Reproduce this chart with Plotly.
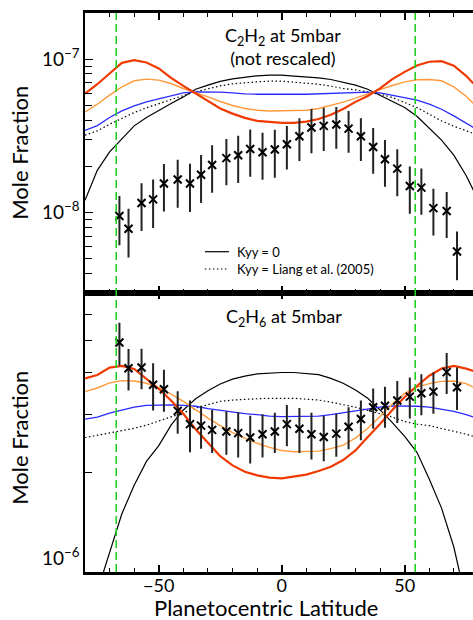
import plotly.graph_objects as go
from plotly.subplots import make_subplots

# ---------------- data ----------------
lat_grid = [-80, -75, -70, -65, -60, -55, -50, -45, -40, -35, -30, -25, -20, -15, -10, -5,
            0, 5, 10, 15, 20, 25, 30, 35, 40, 45, 50, 55, 60, 65, 70, 75, 78]

# C2H2 at 5 mbar (units of 1e-8)
c2h2_red_e8 = [5.96, 6.86, 8.06, 9.46, 9.85, 9.51, 8.69, 7.55, 6.69, 5.96, 5.32, 4.76, 4.41, 4.14, 3.95, 3.88,
               3.84, 3.84, 3.91, 4.07, 4.33, 4.73, 5.26, 5.75, 6.45, 7.40, 8.26, 9.09, 9.61, 9.70, 9.05, 7.78, 6.93]
c2h2_orange_e8 = [4.52, 5.08, 5.82, 6.59, 7.22, 7.40, 7.29, 6.93, 6.43, 6.06, 5.67, 5.29, 4.98, 4.76, 4.64, 4.59,
                  4.59, 4.59, 4.64, 4.76, 4.98, 5.24, 5.56, 5.90, 6.33, 6.73, 7.11, 7.33, 7.36, 7.22, 6.59, 5.73, 5.13]
c2h2_blue_e8 = [3.43, 3.68, 4.16, 4.59, 4.95, 5.26, 5.50, 5.73, 6.03, 6.12, 6.12, 6.09, 6.03, 5.93, 5.90, 5.88,
                5.88, 5.90, 5.90, 5.93, 5.96, 6.00, 6.06, 6.09, 6.03, 5.79, 5.62, 5.40, 5.08, 4.71, 4.26, 3.80, 3.58]
c2h2_kzero_e8 = [1.20, 1.88, 2.48, 3.03, 3.67, 4.16, 4.64, 5.13, 5.67, 6.36, 6.76, 7.15, 7.44, 7.63, 7.78, 7.86,
                 7.86, 7.74, 7.66, 7.55, 7.36, 7.07, 6.76, 6.36, 5.82, 5.26, 4.83, 4.24, 3.54, 2.96, 2.36, 1.74, 1.39]
c2h2_liang_e8 = [3.19, 3.40, 3.76, 4.10, 4.48, 4.81, 5.13, 5.45, 5.79, 6.12, 6.43, 6.69, 6.90, 7.04, 7.11, 7.18,
                 7.18, 7.07, 7.00, 6.86, 6.66, 6.43, 6.30, 6.12, 5.90, 5.62, 5.21, 4.83, 4.37, 3.95, 3.65, 3.40, 3.27]

obs_lat = [-66.0, -62.3, -57.0, -52.3, -47.9, -42.3, -37.3, -32.8, -28.3, -22.5, -17.7, -12.8, -7.8, -2.8,
           2.1, 7.2, 12.1, 17.1, 22.2, 27.2, 32.2, 37.2, 42.0, 47.0, 52.1, 56.8, 61.7, 67.1, 71.3]
c2h2_obs_e8 = [0.946, 0.782, 1.151, 1.216, 1.542, 1.637, 1.542, 1.762, 2.04, 2.26, 2.36, 2.59, 2.47, 2.57,
               2.78, 3.14, 3.58, 3.67, 3.74, 3.52, 3.14, 2.67, 2.22, 1.93, 1.486, 1.45, 1.066, 1.02, 0.556]
c2h2_err_e8 = [0.335, 0.275, 0.395, 0.425, 0.53, 0.567, 0.535, 0.61, 0.697, 0.757, 0.804, 0.885, 0.84, 0.89,
               0.875, 0.98, 1.15, 1.155, 1.135, 1.075, 0.98, 0.885, 0.75, 0.655, 0.505, 0.485, 0.36, 0.34, 0.195]

# C2H6 at 5 mbar (units of 1e-6)
c2h6_red_e6 = [3.85, 3.94, 4.15, 4.20, 4.11, 3.84, 3.58, 3.30, 3.01, 2.70, 2.45, 2.24, 2.10, 2.01, 1.96, 1.93,
               1.92, 1.94, 1.97, 2.02, 2.08, 2.18, 2.33, 2.56, 2.80, 3.09, 3.38, 3.65, 3.92, 4.12, 4.20, 4.12, 4.05]
c2h6_orange_e6 = [3.51, 3.60, 3.73, 3.79, 3.78, 3.72, 3.60, 3.45, 3.28, 3.09, 2.92, 2.77, 2.64, 2.54, 2.45, 2.38,
                  2.33, 2.31, 2.31, 2.32, 2.36, 2.42, 2.54, 2.72, 2.95, 3.22, 3.47, 3.62, 3.71, 3.77, 3.78, 3.71, 3.62]
c2h6_blue_e6 = [2.90, 2.94, 3.02, 3.09, 3.15, 3.19, 3.20, 3.20, 3.19, 3.17, 3.12, 3.08, 3.04, 3.01, 2.99, 2.96,
                2.95, 2.95, 2.95, 2.96, 2.99, 3.03, 3.08, 3.11, 3.15, 3.18, 3.18, 3.17, 3.15, 3.11, 3.06, 2.99, 2.94]
c2h6_liang_e6 = [2.55, 2.59, 2.63, 2.67, 2.72, 2.78, 2.86, 2.94, 3.03, 3.13, 3.21, 3.28, 3.31, 3.33, 3.34, 3.35,
                 3.35, 3.35, 3.33, 3.31, 3.26, 3.21, 3.15, 3.08, 3.01, 2.94, 2.85, 2.80, 2.77, 2.72, 2.67, 2.61, 2.57]
c2h6_kzero_lat = [-72.5, -70, -65, -60, -55, -50, -45, -40, -35, -30, -25, -20, -15, -10, -5, 0,
                  5, 10, 15, 20, 25, 30, 35, 40, 45, 50, 55, 60, 65, 70, 72.3]
c2h6_kzero_e6 = [1.00, 1.14, 1.50, 1.83, 2.16, 2.41, 2.78, 3.09, 3.34, 3.53, 3.70, 3.83, 3.91, 3.97, 4.00, 4.01,
                 4.01, 3.99, 3.95, 3.85, 3.72, 3.55, 3.35, 3.09, 2.83, 2.57, 2.30, 1.91, 1.56, 1.19, 1.00]
c2h6_obs_e6 = [4.94, 4.13, 4.15, 3.68, 3.57, 3.07, 2.80, 2.77, 2.69, 2.66, 2.63, 2.55, 2.61, 2.66,
               2.80, 2.71, 2.61, 2.56, 2.62, 2.75, 2.90, 3.15, 3.18, 3.30, 3.39, 3.47, 3.51, 4.02, 3.62]
c2h6_err_e6 = [0.73, 0.59, 0.58, 0.60, 0.52, 0.45, 0.50, 0.41, 0.40, 0.40, 0.41, 0.42, 0.39, 0.37,
               0.40, 0.42, 0.42, 0.40, 0.39, 0.40, 0.40, 0.44, 0.45, 0.48, 0.48, 0.49, 0.50, 0.57, 0.53]

boundary_lats = [-67.3, 54.3]

top_major_vals = [1e-8, 1e-7]
top_major_text = ["10<sup>\u22128</sup>", "10<sup>\u22127</sup>"]
top_minor_vals = [3e-9, 4e-9, 5e-9, 6e-9, 7e-9, 8e-9, 9e-9, 2e-8, 3e-8, 4e-8, 5e-8, 6e-8, 7e-8, 8e-8, 9e-8, 2e-7]
bot_major_vals = [1e-6]
bot_major_text = ["10<sup>\u22126</sup>"]
bot_minor_vals = [2e-6, 3e-6, 4e-6, 5e-6, 6e-6, 7e-6]

E8, E6 = 1e-8, 1e-6

# ---------------- figure ----------------
FONT = "Lato"
RED, ORANGE, BLUE = "#f03a00", "#ff9a3c", "#2a2aff"

fig = make_subplots(rows=2, cols=1, shared_xaxes=True, vertical_spacing=0)


def add_panel(row, red, orange, blue, kzero_lat, kzero, liang, obs, err, scale):
    fig.add_trace(go.Scatter(x=kzero_lat, y=[v * scale for v in kzero], mode="lines",
                             line=dict(color="black", width=1.2)), row=row, col=1)
    fig.add_trace(go.Scatter(x=lat_grid, y=[v * scale for v in liang], mode="lines",
                             line=dict(color="black", width=1.2, dash="1.5px,2.5px")), row=row, col=1)
    fig.add_trace(go.Scatter(x=lat_grid, y=[v * scale for v in blue], mode="lines",
                             line=dict(color=BLUE, width=1.3)), row=row, col=1)
    fig.add_trace(go.Scatter(x=lat_grid, y=[v * scale for v in orange], mode="lines",
                             line=dict(color=ORANGE, width=1.4)), row=row, col=1)
    fig.add_trace(go.Scatter(x=lat_grid, y=[v * scale for v in red], mode="lines",
                             line=dict(color=RED, width=2.2)), row=row, col=1)
    fig.add_trace(go.Scatter(x=obs_lat, y=[v * scale for v in obs], mode="markers",
                             marker=dict(symbol="x-thin", size=8, line=dict(width=2, color="black")),
                             error_y=dict(type="data", array=[e * scale for e in err], symmetric=True,
                                          color="#222222", thickness=2, width=0)), row=row, col=1)


add_panel(1, c2h2_red_e8, c2h2_orange_e8, c2h2_blue_e8, lat_grid, c2h2_kzero_e8, c2h2_liang_e8,
          c2h2_obs_e8, c2h2_err_e8, E8)
add_panel(2, c2h6_red_e6, c2h6_orange_e6, c2h6_blue_e6, c2h6_kzero_lat, c2h6_kzero_e6, c2h6_liang_e6,
          c2h6_obs_e6, c2h6_err_e6, E6)

xcommon = dict(range=[-80, 77.8], tickvals=[-50, 0, 50], ticks="inside", ticklen=7, tickwidth=1.5,
               tickcolor="black", showline=True, linewidth=2.5, linecolor="black", mirror="ticks",
               showgrid=False, zeroline=False,
               minor=dict(dtick=10, tick0=0, ticks="inside", ticklen=4, tickwidth=1.2, tickcolor="black",
                          showgrid=False),
               tickfont=dict(family=FONT, size=18, color="black"))
fig.update_xaxes(**xcommon)
fig.update_xaxes(showticklabels=False, row=1, col=1)
fig.update_xaxes(ticklabelstandoff=-4, row=2, col=1)

ycommon = dict(type="log", ticks="inside", ticklen=8, tickwidth=1.2, tickcolor="black",
               showline=True, linewidth=1.5, linecolor="black", mirror=False, showgrid=False,
               zeroline=False, tickfont=dict(family=FONT, size=19, color="black"))
fig.update_yaxes(**ycommon)
fig.update_yaxes(range=[-8.5229, -6.699], tickvals=top_major_vals, ticktext=top_major_text,
                 minor=dict(tickvals=top_minor_vals, ticks="inside", ticklen=7, tickwidth=1.2,
                            tickcolor="black", showgrid=False),
                 row=1, col=1)
fig.update_yaxes(range=[-6.0, -5.155], tickvals=bot_major_vals, ticktext=bot_major_text,
                 minor=dict(tickvals=bot_minor_vals, ticks="inside", ticklen=7, tickwidth=1.2,
                            tickcolor="black", showgrid=False),
                 ticklabelposition="outside top", row=2, col=1)

# green dashed boundaries across both panels
for bl in boundary_lats:
    fig.add_shape(type="line", xref="x", yref="paper", x0=bl, x1=bl, y0=0, y1=1,
                  line=dict(color="#22cc22", width=1.6, dash="8px,4px"))

# legend samples (paper coords)
fig.add_shape(type="line", xref="paper", yref="paper", x0=0.309, x1=0.371, y0=0.573, y1=0.573,
              line=dict(color="black", width=1.2))
fig.add_shape(type="line", xref="paper", yref="paper", x0=0.309, x1=0.371, y0=0.542, y1=0.542,
              line=dict(color="black", width=1.2, dash="1.5px,2.5px"))

ann_font = dict(family=FONT, color="black")
annotations = [
    dict(text="Kyy = 0", x=0.386, y=0.573, xanchor="left", yanchor="middle", font=dict(size=13, **ann_font)),
    dict(text="Kyy = Liang et al. (2005)", x=0.386, y=0.542, xanchor="left", yanchor="middle",
         font=dict(size=13, **ann_font)),
    dict(text="C<sub>2</sub>H<sub>2</sub> at 5mbar<br>(not rescaled)", x=0.510, y=0.940, xanchor="center",
         yanchor="middle", font=dict(size=18, **ann_font)),
    dict(text="C<sub>2</sub>H<sub>6</sub> at 5mbar", x=0.513, y=0.4544, xanchor="center", yanchor="middle",
         font=dict(size=18, **ann_font)),
    dict(text="Mole Fraction", x=0, xshift=-65, y=0.75, xanchor="center", yanchor="middle", textangle=-90,
         font=dict(size=22, **ann_font)),
    dict(text="Mole Fraction", x=0, xshift=-65, y=0.24, xanchor="center", yanchor="middle", textangle=-90,
         font=dict(size=22, **ann_font)),
    dict(text="Planetocentric Latitude", x=(265.5 - 85) / 388, y=0, yshift=-35, xanchor="center",
         yanchor="middle", font=dict(size=22, **ann_font)),
]
for a in annotations:
    fig.add_annotation(xref="paper", yref="paper", showarrow=False, **a)

fig.update_layout(width=473, height=620, margin=dict(l=85, r=0, t=13, b=48),
                  plot_bgcolor="white", paper_bgcolor="white", showlegend=False,
                  font=dict(family=FONT, color="black"))

fig.write_html("out.html", config={"displayModeBar": False},
               post_script="document.body.style.margin='0';document.body.style.overflow='hidden';")
